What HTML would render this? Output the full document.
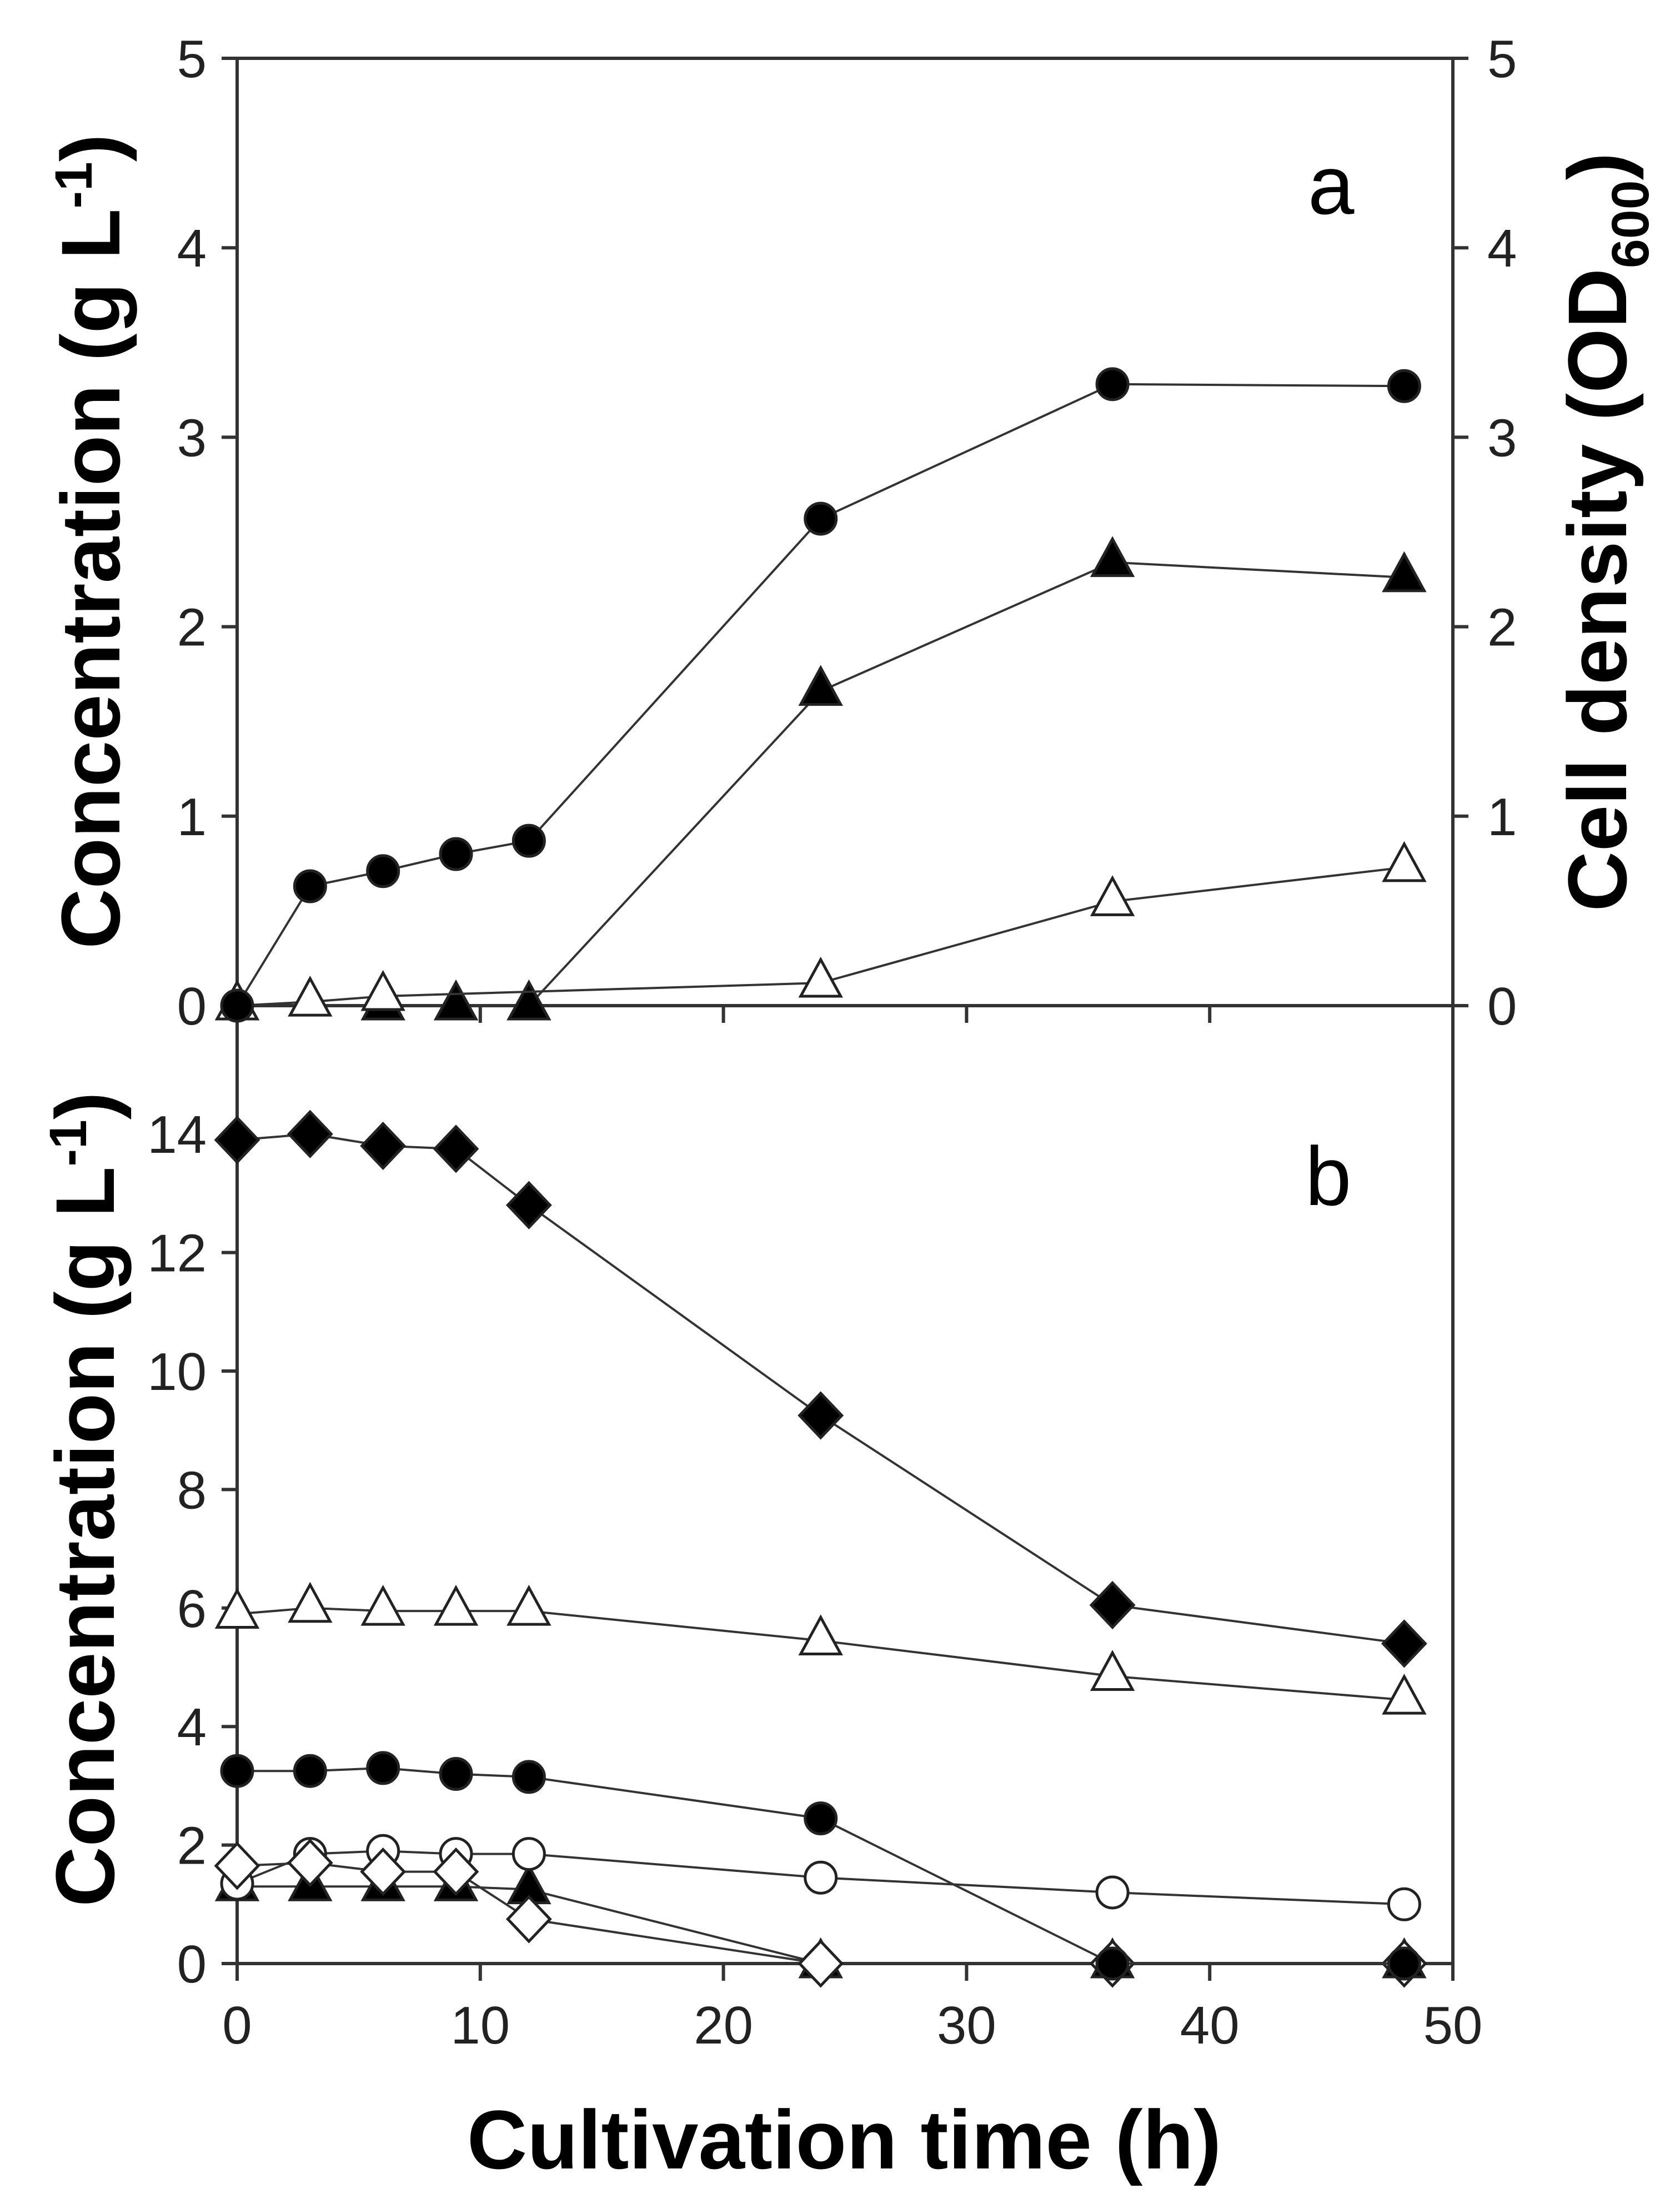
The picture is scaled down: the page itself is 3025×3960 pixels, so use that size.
<!DOCTYPE html>
<html><head><meta charset="utf-8"><style>
html,body{margin:0;padding:0;background:#fff;}
svg{display:block;}
text{font-family:"Liberation Sans",Arial,sans-serif;}
.tick{font-size:96px;fill:#222;}
.title{font-size:150px;font-weight:bold;fill:#000;}
</style></head><body>
<svg id="chart" width="3025" height="3960" viewBox="0 0 3025 3960" xmlns="http://www.w3.org/2000/svg">
<g id="axes"></g>
<g id="series"></g>
<text class="title" transform="translate(215,975) rotate(-90)" text-anchor="middle">Concentration (g L<tspan dy="-50" font-size="95">-1</tspan><tspan dy="50">)</tspan></text>
<text class="title" transform="translate(205,2700) rotate(-90)" text-anchor="middle">Concentration (g L<tspan dy="-50" font-size="95">-1</tspan><tspan dy="50">)</tspan></text>
<text class="title" transform="translate(2928,958) rotate(-90)" text-anchor="middle">Cell density (OD<tspan dy="40" font-size="95">600</tspan><tspan dy="-40">)</tspan></text>
<text class="title" x="1520" y="3905" text-anchor="middle">Cultivation time (h)</text>
<text x="2355" y="385" font-size="150" fill="#000">a</text>
<text x="2350" y="2170" font-size="150" fill="#000">b</text>
</svg>
<script>
const times = [0, 3, 6, 9, 12, 24, 36, 48];
const aCircleFilled = [0, 0.63, 0.71, 0.80, 0.87, 2.57, 3.28, 3.27];
const aTriFilled = [0, null, 0, 0, 0, 1.66, 2.34, 2.26];
const aTriOpen = [0, 0.02, 0.05, null, null, 0.12, 0.55, 0.73];
const bDiamondFilled = [13.9, 14.0, 13.8, 13.75, 12.8, 9.25, 6.05, 5.4];
const bTriOpen = [5.9, 6.0, 5.95, 5.95, 5.95, 5.45, 4.85, 4.45];
const bCircleFilled = [3.25, 3.25, 3.3, 3.2, 3.15, 2.45, 0, 0];
const bCircleOpen = [1.35, 1.85, 1.9, 1.85, 1.85, 1.45, 1.2, 1.0];
const bTriFilled = [1.3, 1.3, 1.3, 1.3, 1.25, 0, 0, 0];
const bDiamondOpen = [1.65, 1.7, 1.55, 1.55, 0.75, 0, 0, 0];
const xTicks = [0, 10, 20, 30, 40, 50];
const aYTicks = [0, 1, 2, 3, 4, 5];
const bYTicks = [0, 2, 4, 6, 8, 10, 12, 14];

const NS = "http://www.w3.org/2000/svg";
const axes = document.getElementById('axes');
const ser = document.getElementById('series');
const X0 = 427, X1 = 2616;
function xs(t){ return X0 + (X1 - X0) * t / 50; }
function ya(v){ return 1811 - v * 341.2; }
function yb(v){ return 3536 - v * 106.7; }
function mk(tag, attrs, parent){
  const e = document.createElementNS(NS, tag);
  for (const k in attrs) e.setAttribute(k, attrs[k]);
  parent.appendChild(e); return e;
}
const AX = {stroke:'#333','stroke-width':6,fill:'none'};
function line(x1,y1,x2,y2,name){
  const l = mk('line', Object.assign({x1:x1,y1:y1,x2:x2,y2:y2}, AX), axes);
  
  
}
line(X0, 105, X1, 105, 'panel-a-top-axis');
line(X0, 105, X0, 3536, 'left-axis');
line(X1, 105, X1, 3536, 'right-axis');
line(X0, 1811, X1, 1811, 'panel-a-x-axis');
line(X0, 3536, X1, 3536, 'panel-b-x-axis');
aYTicks.forEach(v => {
  line(X0 - 28, ya(v), X0, ya(v), 'y-tick-a');
  line(X1, ya(v), X1 + 28, ya(v), 'y-tick-right');
  const t = mk('text', {x: X0 - 55, y: ya(v) + 34, 'text-anchor':'end', class:'tick'}, axes);
  t.textContent = v;
  
  
  const t2 = mk('text', {x: X1 + 62, y: ya(v) + 34, 'text-anchor':'start', class:'tick'}, axes);
  t2.textContent = v;
  
  
});
bYTicks.forEach(v => {
  line(X0 - 28, yb(v), X0, yb(v), 'y-tick-b');
  const t = mk('text', {x: X0 - 55, y: yb(v) + 34, 'text-anchor':'end', class:'tick'}, axes);
  t.textContent = v;
  
  
});
xTicks.forEach(v => {
  line(xs(v), 1811, xs(v), 1842, 'x-tick-a');
  line(xs(v), 3536, xs(v), 3567, 'x-tick-b');
  const t = mk('text', {x: xs(v), y: 3680, 'text-anchor':'middle', class:'tick'}, axes);
  t.textContent = v;
  
  
});
function marker(shape, filled, cx, cy){
  const st = {fill: filled ? '#000' : '#fff', stroke:'#222', 'stroke-width':5};
  let e;
  if (shape === 'circle') e = mk('circle', Object.assign({cx:cx, cy:cy, r:28}, st), ser);
  else if (shape === 'tri') e = mk('polygon', Object.assign({points:`${cx},${cy-42} ${cx+36},${cy+24} ${cx-36},${cy+24}`}, st), ser);
  else e = mk('polygon', Object.assign({points:`${cx},${cy-40} ${cx+38},${cy} ${cx},${cy+40} ${cx-38},${cy}`}, st), ser);
  
  
}
function series(vals, yf, shape, filled, name){
  const pts = vals.map((v,i) => v === null ? null : xs(times[i]) + ',' + yf(v)).filter(p => p !== null).join(' ');
  const pl = mk('polyline', {points:pts, fill:'none', stroke:'#333', 'stroke-width':4}, ser);
  
  
  vals.forEach((v,i) => { if (v !== null) marker(shape, filled, xs(times[i]), yf(v)); });
}
series(aTriFilled, ya, 'tri', true, 'a-filled-triangle');
series(aTriOpen, ya, 'tri', false, 'a-open-triangle');
series(aCircleFilled, ya, 'circle', true, 'a-filled-circle');
series(bTriFilled, yb, 'tri', true, 'b-filled-triangle');
series(bCircleOpen, yb, 'circle', false, 'b-open-circle');
series(bDiamondOpen, yb, 'diamond', false, 'b-open-diamond');
series(bCircleFilled, yb, 'circle', true, 'b-filled-circle');
series(bTriOpen, yb, 'tri', false, 'b-open-triangle');
series(bDiamondFilled, yb, 'diamond', true, 'b-filled-diamond');
</script>
</body></html>
